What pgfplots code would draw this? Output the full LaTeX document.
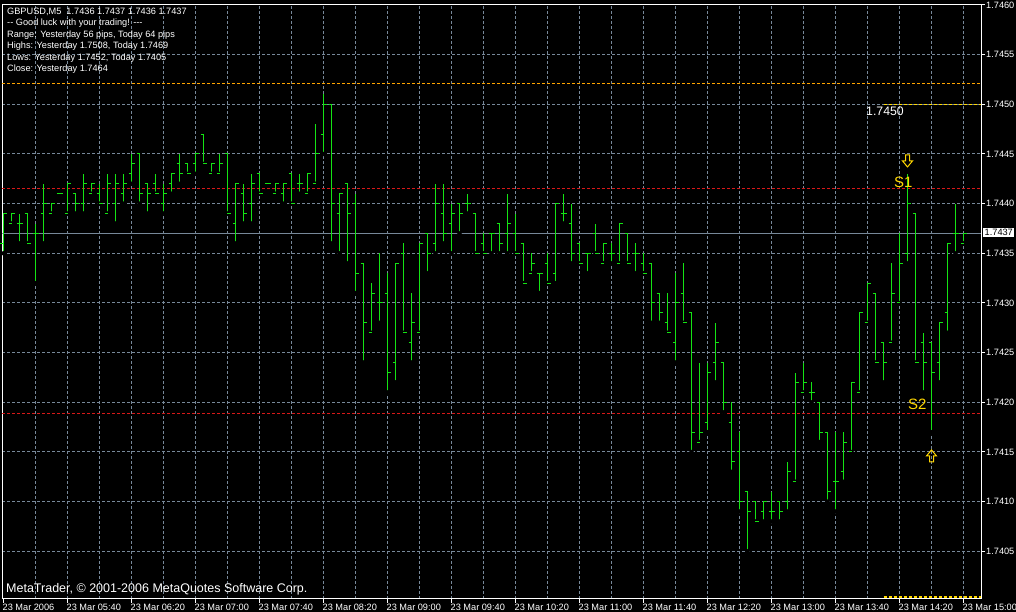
\documentclass[border=0pt]{standalone}
\usepackage{pgfplots}
\pgfplotsset{compat=1.18}
\usepackage{pgfplotstable}
\usepackage{fontspec}
\setmainfont{Liberation Sans}
\definecolor{gridc}{RGB}{119,136,153}
\definecolor{barc}{RGB}{20,228,20}
\definecolor{sgold}{RGB}{255,215,0}
\definecolor{sred}{RGB}{215,25,25}
\definecolor{orng}{RGB}{255,165,0}
\newcommand{\sm}{\fontsize{9.2bp}{11bp}\selectfont}

\pgfdeclareplotmark{otick}{\pgfpathmoveto{\pgfqpoint{-3bp}{0pt}}\pgfpathlineto{\pgfqpoint{0.5bp}{0pt}}\pgfusepathqstroke}
\pgfdeclareplotmark{ctick}{\pgfpathmoveto{\pgfqpoint{-0.5bp}{0pt}}\pgfpathlineto{\pgfqpoint{3bp}{0pt}}\pgfusepathqstroke}
\pgfdeclareplotmark{dnarrow}{%
 \pgfpathmoveto{\pgfqpoint{-2bp}{6bp}}\pgfpathlineto{\pgfqpoint{2bp}{6bp}}%
 \pgfpathlineto{\pgfqpoint{2bp}{0bp}}\pgfpathlineto{\pgfqpoint{5bp}{0bp}}%
 \pgfpathlineto{\pgfqpoint{0bp}{-6bp}}\pgfpathlineto{\pgfqpoint{-5bp}{0bp}}%
 \pgfpathlineto{\pgfqpoint{-2bp}{0bp}}\pgfpathclose\pgfusepathqstroke}
\pgfdeclareplotmark{uparrow}{%
 \pgfpathmoveto{\pgfqpoint{-2bp}{-6bp}}\pgfpathlineto{\pgfqpoint{2bp}{-6bp}}%
 \pgfpathlineto{\pgfqpoint{2bp}{0bp}}\pgfpathlineto{\pgfqpoint{5bp}{0bp}}%
 \pgfpathlineto{\pgfqpoint{0bp}{6bp}}\pgfpathlineto{\pgfqpoint{-5bp}{0bp}}%
 \pgfpathlineto{\pgfqpoint{-2bp}{0bp}}\pgfpathclose\pgfusepathqstroke}

\pgfplotstableread{
i O H L C
0 1.7436 1.7439 1.7435 1.7439
1 1.7438 1.7439 1.7438 1.7439
2 1.7438 1.7439 1.7436 1.7438
3 1.7439 1.7439 1.7436 1.7436
4 1.7437 1.7438 1.7432 1.7437
5 1.7439 1.7442 1.7436 1.7440
6 1.7439 1.7440 1.7439 1.7440
7 1.7441 1.7441 1.7441 1.7441
8 1.7439 1.7442 1.7439 1.7442
9 1.7441 1.7441 1.7439 1.7440
10 1.7440 1.7443 1.7439 1.7442
11 1.7441 1.7442 1.7441 1.7442
12 1.7441 1.7442 1.7440 1.7440
13 1.7439 1.7443 1.7439 1.7442
14 1.7440 1.7443 1.7438 1.7442
15 1.7441 1.7443 1.7440 1.7442
16 1.7443 1.7445 1.7442 1.7444
17 1.7445 1.7445 1.7440 1.7441
18 1.7442 1.7442 1.7439 1.7441
19 1.7442 1.7443 1.7441 1.7441
20 1.7440 1.7442 1.7439 1.7441
21 1.7442 1.7443 1.7441 1.7443
22 1.7444 1.7445 1.7442 1.7443
23 1.7444 1.7444 1.7443 1.7443
24 1.7444 1.7445 1.7443 1.7445
25 1.7447 1.7447 1.7444 1.7444
26 1.7443 1.7444 1.7443 1.7444
27 1.7443 1.7445 1.7443 1.7444
28 1.7445 1.7445 1.7439 1.7439
29 1.7438 1.7442 1.7436 1.7442
30 1.7441 1.7442 1.7438 1.7439
31 1.7440 1.7443 1.7438 1.7442
32 1.7443 1.7443 1.7441 1.7441
33 1.7442 1.7442 1.7442 1.7442
34 1.7441 1.7442 1.7441 1.7442
35 1.7441 1.7442 1.7440 1.7442
36 1.7443 1.7443 1.7440 1.7440
37 1.7442 1.7443 1.7441 1.7442
38 1.7441 1.7443 1.7441 1.7443
39 1.7442 1.7448 1.7442 1.7445
40 1.7447 1.7451 1.7445 1.7450
41 1.7450 1.7450 1.7436 1.7440
42 1.7439 1.7441 1.7435 1.7441
43 1.7442 1.7442 1.7434 1.7439
44 1.7440 1.7441 1.7431 1.7433
45 1.7434 1.7434 1.7424 1.7428
46 1.7427 1.7432 1.7427 1.7431
47 1.7430 1.7435 1.7428 1.7430
48 1.7431 1.7433 1.7421 1.7423
49 1.7424 1.7434 1.7422 1.7434
50 1.7435 1.7436 1.7427 1.7427
51 1.7426 1.7431 1.7424 1.7428
52 1.7427 1.7436 1.7427 1.7436
53 1.7437 1.7437 1.7433 1.7435
54 1.7436 1.7442 1.7435 1.7440
55 1.7439 1.7442 1.7436 1.7437
56 1.7438 1.7440 1.7435 1.7439
57 1.7440 1.7440 1.7437 1.7439
58 1.7440 1.7441 1.7439 1.7440
59 1.7439 1.7439 1.7435 1.7435
60 1.7436 1.7437 1.7435 1.7435
61 1.7437 1.7437 1.7435 1.7437
62 1.7438 1.7438 1.7435 1.7436
63 1.7437 1.7441 1.7435 1.7438
64 1.7437 1.7439 1.7435 1.7435
65 1.7436 1.7436 1.7432 1.7432
66 1.7433 1.7435 1.7433 1.7434
67 1.7433 1.7433 1.7431 1.7433
68 1.7434 1.7435 1.7432 1.7432
69 1.7433 1.7440 1.7432 1.7440
70 1.7439 1.7441 1.7438 1.7439
71 1.7438 1.7440 1.7434 1.7435
72 1.7436 1.7436 1.7434 1.7434
73 1.7435 1.7435 1.7433 1.7435
74 1.7437 1.7438 1.7435 1.7435
75 1.7434 1.7436 1.7434 1.7436
76 1.7435 1.7436 1.7434 1.7435
77 1.7434 1.7438 1.7434 1.7438
78 1.7437 1.7437 1.7434 1.7434
79 1.7435 1.7436 1.7433 1.7435
80 1.7434 1.7435 1.7433 1.7433
81 1.7434 1.7434 1.7428 1.7430
82 1.7431 1.7431 1.7428 1.7429
83 1.7428 1.7431 1.7427 1.7427
84 1.7426 1.7433 1.7424 1.7430
85 1.7431 1.7434 1.7428 1.7428
86 1.7429 1.7429 1.7415 1.7417
87 1.7416 1.7424 1.7416 1.7417
88 1.7418 1.7424 1.7417 1.7423
89 1.7424 1.7428 1.7422 1.7426
90 1.7424 1.7424 1.7419 1.7420
91 1.7418 1.7420 1.7413 1.7414
92 1.7415 1.7417 1.7409 1.7410
93 1.7411 1.7411 1.7405 1.7409
94 1.7410 1.7410 1.7408 1.7408
95 1.7409 1.7410 1.7408 1.7410
96 1.7409 1.7411 1.7408 1.7409
97 1.7410 1.7410 1.7408 1.7409
98 1.7410 1.7414 1.7409 1.7413
99 1.7412 1.7423 1.7412 1.7422
100 1.7421 1.7424 1.7421 1.7422
101 1.7421 1.7422 1.7420 1.7421
102 1.7420 1.7420 1.7416 1.7417
103 1.7417 1.7417 1.7410 1.7411
104 1.7412 1.7417 1.7409 1.7412
105 1.7413 1.7417 1.7412 1.7416
106 1.7415 1.7422 1.7415 1.7422
107 1.7421 1.7429 1.7421 1.7429
108 1.7428 1.7432 1.7428 1.7432
109 1.7431 1.7431 1.7424 1.7424
110 1.7426 1.7426 1.7422 1.7424
111 1.7426 1.7434 1.7426 1.7431
112 1.7430 1.7437 1.7430 1.7434
113 1.7435 1.7443 1.7434 1.7440
114 1.7439 1.7439 1.7424 1.7424
115 1.7426 1.7427 1.7421 1.7424
116 1.7426 1.7426 1.7417 1.7423
117 1.7424 1.7428 1.7422 1.7428
118 1.7429 1.7436 1.7427 1.7436
119 1.7437 1.7440 1.7435 1.7437
120 1.7436 1.7437 1.7436 1.7437
}\bars

\begin{document}
\begin{tikzpicture}
\useasboundingbox (-2bp,-13bp) rectangle (1014bp,599bp);
\fill[black] (-2bp,-13bp) rectangle (1014bp,599bp);
\begin{axis}[
  at={(0,0)}, anchor=south west,
  scale only axis, width=979bp, height=594bp,
  xmin=-0.1875, xmax=122.1875, ymin=1.74002, ymax=1.7460,
  axis line style={white, line width=1bp},
  tick align=outside, xtick pos=bottom, ytick pos=right,
  major tick length=4bp, minor tick length=0pt,
  tick style={white, line width=1bp},
  xtick={0,8,...,120},
  xticklabels={23 Mar 2006, 23 Mar 05:40, 23 Mar 06:20, 23 Mar 07:00, 23 Mar 07:40, 23 Mar 08:20, 23 Mar 09:00, 23 Mar 09:40, 23 Mar 10:20, 23 Mar 11:00, 23 Mar 11:40, 23 Mar 12:20, 23 Mar 13:00, 23 Mar 13:40, 23 Mar 14:20, 23 Mar 15:00},
  minor xtick={4,8,...,120},
  xminorgrids=true, xmajorgrids=false,
  ytick={1.7405,1.7410,1.7415,1.7420,1.7425,1.7430,1.7435,1.7440,1.7445,1.7450,1.7455,1.7460},
  yticklabels={1.7405,1.7410,1.7415,1.7420,1.7425,1.7430,1.7435,1.7440,1.7445,1.7450,1.7455,1.7460},
  ymajorgrids=true,
  grid style={gridc, line width=1bp, dash pattern=on 3bp off 2bp},
  minor grid style={gridc, line width=1bp, dash pattern=on 3bp off 2bp},
  x tick label style={font=\sm, text=white, anchor=north west, inner sep=0pt, xshift=-1bp, yshift=-1bp},
  y tick label style={font=\sm, text=white, anchor=west, inner sep=0pt, xshift=1bp},
  clip=true,
]
% level lines
\addplot[orng, line width=1bp, dash pattern=on 3bp off 2bp] coordinates {(-0.1875,1.74521) (122.1875,1.74521)};
\addplot[sred, line width=1bp, dash pattern=on 3bp off 2bp] coordinates {(-0.1875,1.74415) (122.1875,1.74415)};
\addplot[sred, line width=1bp, dash pattern=on 3bp off 2bp] coordinates {(-0.1875,1.74189) (122.1875,1.74189)};
\addplot[sgold, line width=1bp, dash pattern=on 3bp off 2bp] coordinates {(110,1.7450) (122.1875,1.7450)};
\addplot[sgold, line width=1.2bp, dash pattern=on 3bp off 2bp] coordinates {(110,1.74004) (122.1875,1.74004)};
% bid line
\addplot[gridc, line width=1bp] coordinates {(-0.1875,1.7437) (122.1875,1.7437)};
% OHLC bars
\addplot[only marks, mark=none, error bars/.cd, y dir=plus, y explicit, error mark=none,
  error bar style={draw=barc, line width=1bp, solid}]
  table[x=i, y=L, y error expr=\thisrow{H}-\thisrow{L}] {\bars};
\addplot[only marks, mark=otick, mark options={draw=barc, line width=1bp, solid}] table[x=i, y=O] {\bars};
\addplot[only marks, mark=ctick, mark options={draw=barc, line width=1bp, solid}] table[x=i, y=C] {\bars};
% signal arrows
\addplot[only marks, mark=dnarrow, mark options={draw=sgold, line width=1bp, solid, fill=none}] coordinates {(113,1.74443)};
\addplot[only marks, mark=uparrow, mark options={draw=sgold, line width=1bp, solid, fill=none}] coordinates {(116,1.74146)};
\end{axis}
% bid price box
\node[anchor=west, fill=white, text=black, font=\sm, inner xsep=1.5bp, inner ysep=1bp] at (981bp, 366.5bp) {1.7437};
% header
\node[anchor=base west, inner sep=0pt, text=white, font=\sm] at (5bp,584.5bp) {GBPUSD,M5\ \ 1.7436 1.7437 1.7436 1.7437};
\node[anchor=base west, inner sep=0pt, text=white, font=\sm] at (5bp,573bp) {-{}- Good luck with your trading! -{}-{}-};
\node[anchor=base west, inner sep=0pt, text=white, font=\sm] at (5bp,561.5bp) {Range: Yesterday 56 pips, Today 64 pips};
\node[anchor=base west, inner sep=0pt, text=white, font=\sm] at (5bp,550bp) {Highs: Yesterday 1.7508, Today 1.7469};
\node[anchor=base west, inner sep=0pt, text=white, font=\sm] at (5bp,538.5bp) {Lows: Yesterday 1.7452, Today 1.7405};
\node[anchor=base west, inner sep=0pt, text=white, font=\sm] at (5bp,527bp) {Close: Yesterday 1.7464};
% copyright
\node[anchor=base west, inner sep=0pt, text=white, font=\fontsize{12.5bp}{14bp}\selectfont] at (4bp,6.3bp) {MetaTrader, © 2001-2006 MetaQuotes Software Corp.};
% level label and signal labels
\node[anchor=base west, inner sep=0pt, text=white, font=\fontsize{12.3bp}{14bp}\selectfont] at (864bp,483bp) {1.7450};
\node[anchor=base west, inner sep=0pt, text=sgold, font=\fontsize{15bp}{17bp}\selectfont] at (892bp,411.7bp) {S1};
\node[anchor=base west, inner sep=0pt, text=sgold, font=\fontsize{15bp}{17bp}\selectfont] at (906bp,189bp) {S2};
\end{tikzpicture}
\end{document}
